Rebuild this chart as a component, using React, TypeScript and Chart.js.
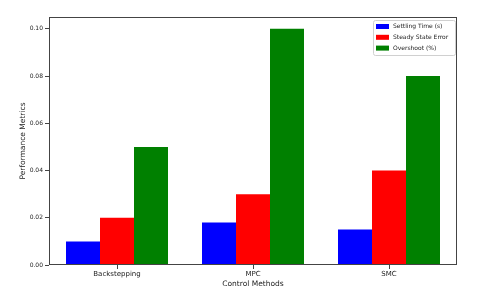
import React, { useEffect, useRef } from "react";
import { Chart, registerables } from "chart.js";

Chart.register(...registerables);

const categories = ["Backstepping", "MPC", "SMC"];
const seriesNames = ["Settling Time (s)", "Steady State Error", "Overshoot (%)"];
const settlingTime = [0.01, 0.018, 0.015];
const steadyStateError = [0.02, 0.03, 0.04];
const overshoot = [0.05, 0.1, 0.08];
const seriesColors = ["#0000ff", "#ff0000", "#008000"];
const yTicks = [0, 0.02, 0.04, 0.06, 0.08, 0.1];

const FONT = "'DejaVu Sans', sans-serif";

const framePlugin = {
  id: "frame",
  afterDraw(chart: any) {
    const { ctx, chartArea } = chart;
    ctx.save();
    ctx.strokeStyle = "#444";
    ctx.lineWidth = 1;
    ctx.strokeRect(
      Math.round(chartArea.left) + 0.5,
      Math.round(chartArea.top) + 0.5,
      Math.round(chartArea.right - chartArea.left) - 1,
      Math.round(chartArea.bottom - chartArea.top) - 1
    );
    // legend
    const bx = 373, by = 20, bw = 82, bh = 35;
    ctx.fillStyle = "rgba(255,255,255,0.8)";
    ctx.strokeStyle = "#d0d0d0";
    ctx.beginPath();
    (ctx as any).roundRect(bx + 0.5, by + 0.5, bw, bh, 2);
    ctx.fill();
    ctx.stroke();
    ctx.font = `6px ${FONT}`;
    ctx.textBaseline = "middle";
    ctx.textAlign = "left";
    chart.data.datasets.forEach((ds: any, i: number) => {
      const cy = by + 6.5 + i * 10.8;
      ctx.fillStyle = ds.backgroundColor;
      ctx.fillRect(bx + 3, cy - 2.5, 13, 5);
      ctx.fillStyle = "#222";
      ctx.fillText(ds.label, bx + 20, cy);
    });
    ctx.restore();
  },
};

export default function App() {
  const ref = useRef<HTMLCanvasElement>(null);
  useEffect(() => {
    document.body.style.margin = "0";
    const values = [settlingTime, steadyStateError, overshoot];
    const chart = new Chart(ref.current!, {
      type: "bar",
      data: {
        labels: categories,
        datasets: seriesNames.map((n, i) => ({
          label: n,
          data: values[i],
          backgroundColor: seriesColors[i],
          borderWidth: 0,
          categoryPercentage: 0.75,
          barPercentage: 1,
        })),
      },
      options: {
        animation: false,
        responsive: false,
        devicePixelRatio: 1,
        layout: { padding: { left: 0, right: 23, top: 17, bottom: 0 } },
        plugins: { legend: { display: false }, tooltip: { enabled: false } },
        scales: {
          x: {
            offset: true,
            grid: { offset: false, drawOnChartArea: false, tickLength: 4, color: "#444" },
            border: { display: false },
            ticks: { font: { family: FONT, size: 7 }, color: "#222", padding: 1 },
            title: {
              display: true,
              text: "Control Methods",
              font: { family: FONT, size: 7.5 },
              color: "#222",
              padding: { top: 0, bottom: 6 },
            },
            afterFit(scale: any) {
              scale.height = 30;
            },
          },
          y: {
            min: 0,
            max: 0.105,
            grid: { drawOnChartArea: false, tickLength: 4, color: "#444" },
            border: { display: false },
            afterBuildTicks(scale: any) {
              scale.ticks = yTicks.map((v) => ({ value: v }));
            },
            ticks: {
              font: { family: FONT, size: 6 },
              color: "#222",
              padding: 2,
              callback: (v: any) => Number(v).toFixed(2),
            },
            title: {
              display: true,
              text: "Performance Metrics",
              font: { family: FONT, size: 7.5 },
              color: "#222",
              padding: { top: 19, bottom: 0 },
            },
            afterFit(scale: any) {
              scale.width = 49;
            },
          },
        },
      },
      plugins: [framePlugin],
    });
    return () => chart.destroy();
  }, []);
  return (
    <div style={{ position: "fixed", left: 0, top: 0, width: 480, height: 295, background: "#fff" }}>
      <canvas ref={ref} width={480} height={295} style={{ width: 480, height: 295 }} />
    </div>
  );
}
